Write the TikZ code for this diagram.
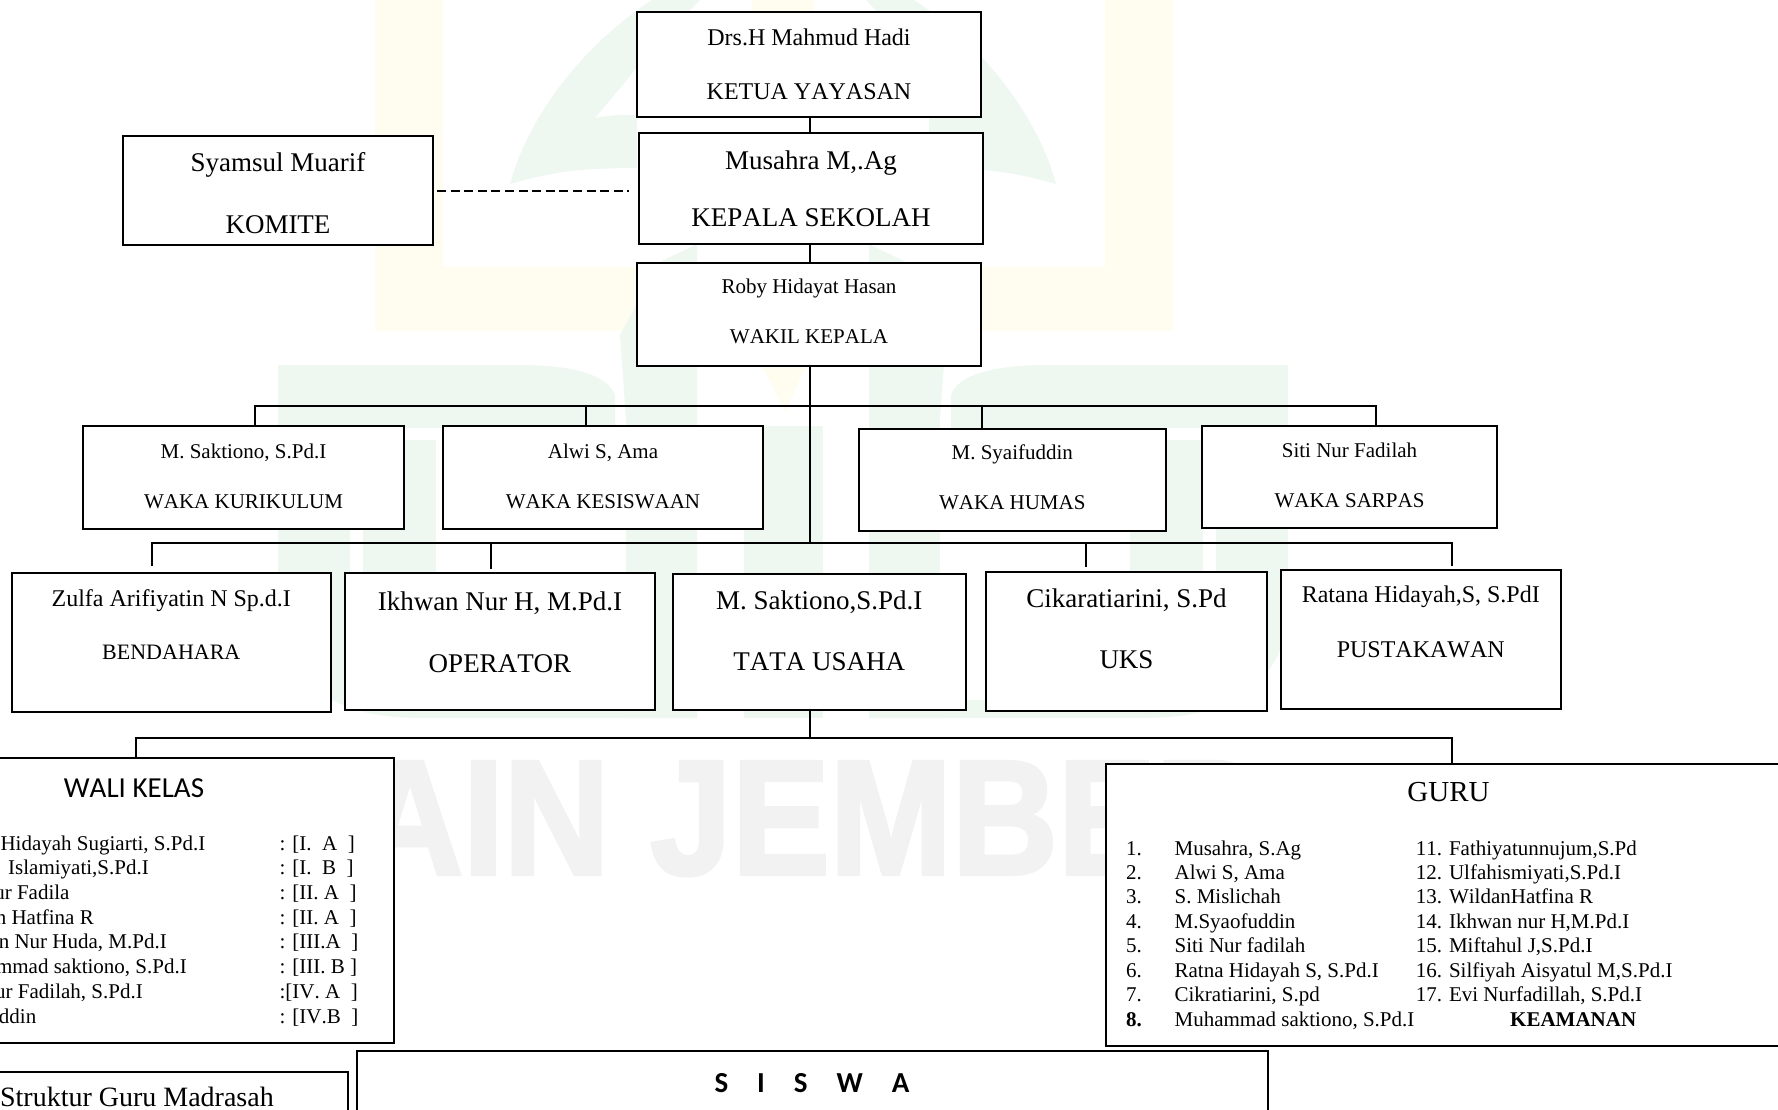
\documentclass[tikz,border=0pt]{standalone}
\usepackage{fontspec}
\setmainfont[Kerning=Off, Ligatures=NoCommon]{Liberation Serif}
\newfontfamily\calibfont[Kerning=Off]{Carlito}
\newfontfamily\markfont[FakeBold=2.5]{Liberation Sans}
\definecolor{markgreen}{HTML}{EFF7F1}
\definecolor{markyellow}{HTML}{FEFDF0}
\definecolor{markgray}{HTML}{F2F2F2}
\tikzset{
  x=1pt,
  y=-1pt,
  fs/.style={font=\fontsize{#1}{#1}\selectfont},
  box/.style={draw, fill=white, line width=2pt, align=center, inner sep=0pt},
  size/.style 2 args={minimum width=#1, minimum height=#2},
  link/.style={line width=2pt},
  dashlink/.style={line width=2pt, dash pattern=on 9pt off 4.6pt},
  listtext/.style={fs=21, inner sep=0pt},
}

\begin{document}
\begin{tikzpicture}
        \useasboundingbox (0,0) rectangle (1778,1109);

        % watermark
        \fill[markyellow] (375,0) -- (375,331) -- (1173,331) -- (1173,0) -- (1105,0)
              -- (1105,267) -- (443,267) -- (443,0) -- cycle;
        \fill[markyellow] (752,0) -- (814,0) -- (814,12) -- (752,12) -- cycle;
        \fill[markyellow] (762,366) -- (806,366) -- (785,412) -- cycle;
        \foreach \m in {1,-1} {
          \begin{scope}[shift={(783,0)}, xscale=\m]
            \fill[markgreen] (-273,184) .. controls (-253,110) and (-193,40) .. (-131,0)
                  -- (-83,0) -- (-146,67) .. controls (-168,95) and (-180,108) .. (-188,118)
                  .. controls (-175,115) and (-160,115) .. (-146,115) -- (-146,168)
                  .. controls (-204,168) and (-230,172) .. (-273,184) -- cycle;
            \fill[markgreen] (-505,365) -- (-263,365) .. controls (-210,365) and (-175,375) .. (-168,395)
                  -- (-168,428) -- (-433,428) -- (-433,640) -- (-363,700) -- (-86,700) -- (-86,718)
                  -- (-363,718) .. controls (-440,718) and (-495,690) .. (-505,620) -- cycle;
            \fill[markgreen] (-420,440) rectangle (-347,700);
            \fill[markgreen] (-86,244) -- (-123,262) -- (-163,335) -- (-157,420) -- (-157,718)
                  -- (-86,718) -- cycle;
          \end{scope}
        }
        \fill[markgreen] (744,426) rectangle (823,718);
        \node[fs=163, text=markgray, anchor=base east, inner sep=0pt] (mark) at (1262,874)
              {\markfont\bfseries\scalebox{.9}[1]{IAIN JEMBER}};

        % boxes
        \node[box, size={344}{105}, fs=24] (ketua) at (809,64.5)
              {Drs.H Mahmud Hadi\\[30pt]KETUA YAYASAN};
        \node[box, size={344}{111}, fs=27] (kepala) at (811,188.5)
              {Musahra M,.Ag\\[30pt]KEPALA SEKOLAH};
        \node[box, size={344}{103}, fs=21] (wakil) at (809,314.5)
              {Roby Hidayat Hasan\\[29pt]WAKIL KEPALA\\[-15pt]};
        \node[box, size={310.5}{109}, fs=27] (komite) at (278,190.5)
              {\rule{0pt}{24.5pt}Syamsul Muarif\\[35.5pt]KOMITE};

        \node[box, size={321}{103}, fs=21] (kurikulum) at (243.5,477.5)
              {M. Saktiono, S.Pd.I\\[29pt]WAKA KURIKULUM\\[-18pt]};
        \node[box, size={320}{103}, fs=21] (kesiswaan) at (603,477.5)
              {Alwi S, Ama\\[29pt]WAKA KESISWAAN\\[-18pt]};
        \node[box, size={306.5}{102}, fs=21] (humas) at (1012.3,480)
              {M. Syaifuddin\\[29pt]WAKA HUMAS\\[-16pt]};
        \node[box, size={295}{102}, fs=21] (sarpas) at (1349.5,477)
              {Siti Nur Fadilah\\[29pt]WAKA SARPAS\\[-18pt]};

        \node[box, size={318.5}{139}, fs=24] (bendahara) at (171.3,642.5)
              {Zulfa Arifiyatin N Sp.d.I\\[28.7pt]{\fontsize{22}{22}\selectfont BENDAHARA}\\[12pt]};
        \node[box, size={310}{137}, fs=27] (operator) at (500,641.5)
              {Ikhwan Nur H, M.Pd.I\\[35pt]OPERATOR\\[-8pt]};
        \node[box, size={292.5}{136.5}, fs=27] (tatausaha) at (819.3,641.8)
              {M. Saktiono,S.Pd.I\\[34pt]TATA USAHA\\[-5pt]};
        \node[box, size={281}{139}, fs=27] (uks) at (1126.5,641.4)
              {Cikaratiarini, S.Pd\\[34pt]UKS\\[-2pt]};
        \node[box, size={279.6}{139.4}, fs=24] (pustakawan) at (1420.8,639.4)
              {Ratana Hidayah,S, S.PdI\\[31pt]PUSTAKAWAN\\[11pt]};

        \node[box, size={413.5}{285}] (walikelas) at (186.75,900.5) {};
        \node[box, size={694.4}{281.7}] (guru) at (1452.8,904.85) {};
        \node[box, size={368}{68}] (struktur) at (164,1106) {};
        \node[box, size={911}{89}] (siswa) at (812.5,1095.5) {};

        % titles
        \node[fs=29, inner sep=0pt] (walititle) at (134,787.7) {\calibfont WALI KELAS};
        \node[fs=29, inner sep=0pt] (gurutitle) at (1448.5,791.7) {GURU};
        \node[fs=28, inner sep=0pt, anchor=base east] (strukturtitle) at (274,1106) {Struktur Guru Madrasah};
        \node[fs=29, inner sep=0pt] (siswatitle) at (812,1082.7)
              {\calibfont\bfseries S\quad I\quad S\quad W\quad A};

        % class teachers
        \foreach \i/\x/\nama/\kelas in {
              0/205.5/{Hidayah Sugiarti, S.Pd.I}/{: [I.~~A~~]},
              1/149/{Islamiyati,S.Pd.I}/{: [I.~~B~~]},
              2/69.7/{ur Fadila}/{: [II.~A~~]},
              3/94/{n Hatfina R}/{: [II.~A~~]},
              4/167/{n Nur Huda, M.Pd.I}/{: [III.A~~]},
              5/187/{mmad saktiono, S.Pd.I}/{: [III.~B~]},
              6/143/{ur Fadilah, S.Pd.I}/{:[IV.~A~~]},
              7/36.5/{ddin}/{: [IV.B~~]}} {
          \node[listtext, anchor=base east] (wali\i) at (\x,{850.3+\i*24.67}) {\nama};
          \node[listtext, anchor=base west] (kelas\i) at (279.4,{850.3+\i*24.67}) {\kelas};
        }

        % teachers
        \foreach \i/\no/\nama in {
              0/1./{Musahra, S.Ag},
              1/2./{Alwi S, Ama},
              2/3./{S. Mislichah},
              3/4./{M.Syaofuddin},
              4/5./{Siti Nur fadilah},
              5/6./{Ratna Hidayah S, S.Pd.I},
              6/7./{Cikratiarini, S.pd},
              7/\textbf{8.}/{Muhammad saktiono, S.Pd.I}} {
          \node[listtext, anchor=base west] (no\i) at (1126,{855+\i*24.43}) {\no};
          \node[listtext, anchor=base west] (guru\i) at (1174.4,{855+\i*24.43}) {\nama};
        }
        \foreach \i/\nama in {
              0/{11. Fathiyatunnujum,S.Pd},
              1/{12. Ulfahismiyati,S.Pd.I},
              2/{13. WildanHatfina R},
              3/{14. Ikhwan nur H,M.Pd.I},
              4/{15. Miftahul J,S.Pd.I},
              5/{16. Silfiyah Aisyatul M,S.Pd.I},
              6/{17. Evi Nurfadillah, S.Pd.I}} {
          \node[listtext, anchor=base west] (gurub\i) at (1415.6,{855+\i*24.43}) {\nama};
        }
        \node[listtext, anchor=base west] (keamanan) at (1510,{855+7*24.43}) {\textbf{KEAMANAN}};

        % links
        \coordinate (a1) at (255,406);
        \coordinate (a2) at (585.5,406);
        \coordinate (a3) at (982,406);
        \coordinate (a4) at (1376,406);
        \coordinate (mid) at (810,543);
        \coordinate (dashA) at (437,191);
        \coordinate (dashB) at (629,191);
        \foreach \n/\x/\yy in {1/152/566, 2/491/569, 3/1085.6/566.6, 4/1452/566} {
          \coordinate (b\n) at (\x,543);
          \coordinate (e\n) at (\x,\yy);
        }
        \coordinate (c1) at (136,738);
        \coordinate (c2) at (1452,738);

        \draw[link] (810,0 |- ketua.south) -- (810,0 |- kepala.north);
        \draw[link] (810,0 |- kepala.south) -- (810,0 |- wakil.north);
        \draw[link] (810,0 |- wakil.south) -- (mid);
        \draw[dashlink] (dashA) -- (dashB);

        \draw[link] (a1 |- kurikulum.north) -- (a1) -- (a4) -- (a4 |- sarpas.north);
        \draw[link] (a2) -- (a2 |- kesiswaan.north);
        \draw[link] (a3) -- (a3 |- humas.north);

        \draw[link] (e1) -- (b1) -- (b4) -- (e4);
        \draw[link] (b2) -- (e2);
        \draw[link] (b3) -- (e3);

        \draw[link] (810,0 |- tatausaha.south) -- (810,738);
        \draw[link] (c1 |- walikelas.north) -- (c1) -- (c2) -- (c2 |- guru.north);
\end{tikzpicture}
\end{document}
